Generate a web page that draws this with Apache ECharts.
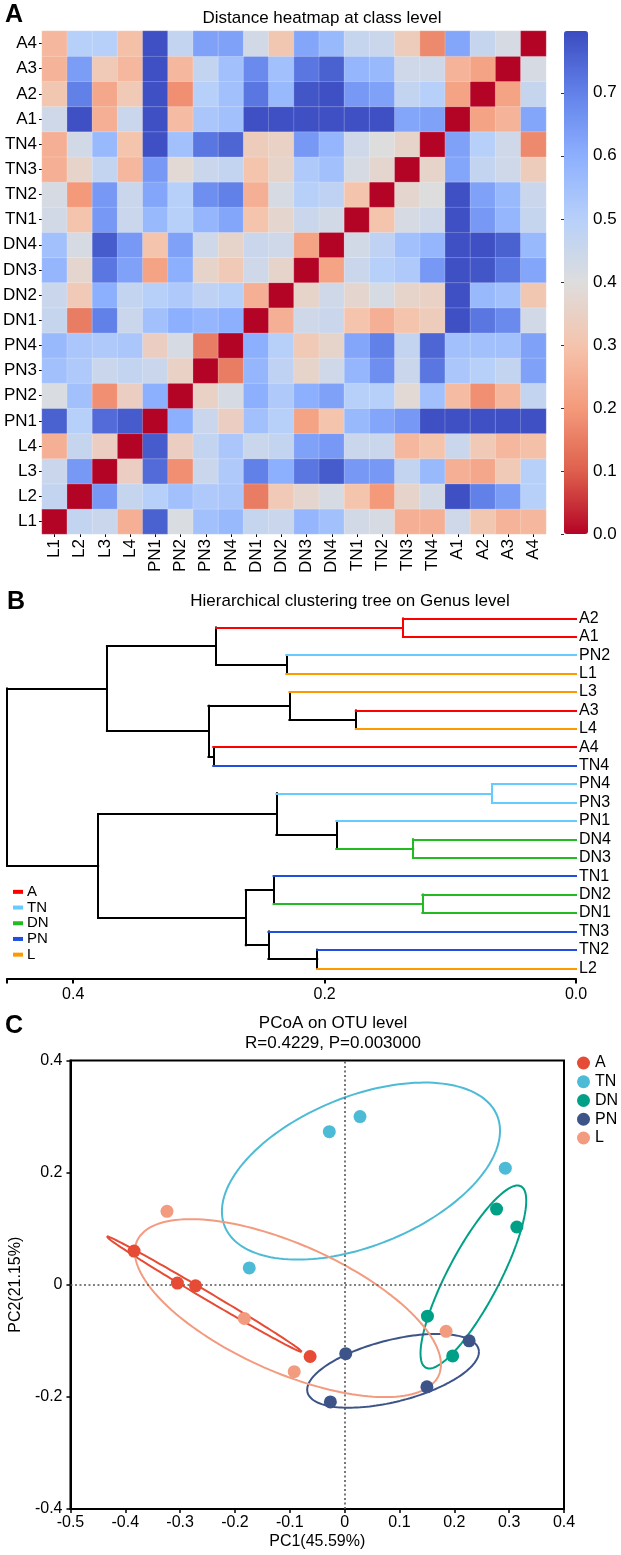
<!DOCTYPE html>
<html><head><meta charset="utf-8">
<script src="https://cdn.jsdelivr.net/npm/echarts@6/dist/echarts.min.js"></script>
<style>html,body{margin:0;padding:0;background:#fff}#c{width:621px;height:1555px}</style>
</head><body><div id="c"></div>
<script>
const FONT = '"Liberation Sans", Arial, Helvetica, sans-serif';

// ---------- Panel A: distance heatmap ----------
const samples = ['L1','L2','L3','L4','PN1','PN2','PN3','PN4','DN1','DN2','DN3','DN4','TN1','TN2','TN3','TN4','A1','A2','A3','A4'];
const rowL1  = [0,0.47,0.45,0.25,0.76,0.41,0.55,0.57,0.46,0.45,0.58,0.55,0.43,0.42,0.25,0.25,0.44,0.31,0.26,0.27];
const rowL2  = [0.47,0,0.65,0.46,0.5,0.55,0.52,0.53,0.15,0.32,0.37,0.42,0.3,0.2,0.36,0.43,0.79,0.7,0.64,0.5];
const rowL3  = [0.45,0.65,0,0.34,0.74,0.18,0.45,0.52,0.7,0.6,0.72,0.77,0.65,0.65,0.47,0.57,0.25,0.23,0.32,0.5];
const rowL4  = [0.25,0.46,0.34,0,0.77,0.34,0.47,0.53,0.45,0.47,0.63,0.65,0.45,0.45,0.27,0.3,0.45,0.32,0.27,0.29];
const rowPN1 = [0.76,0.5,0.74,0.77,0,0.6,0.45,0.34,0.55,0.5,0.22,0.3,0.57,0.62,0.65,0.79,0.79,0.79,0.79,0.79];
const rowPN2 = [0.41,0.55,0.18,0.34,0.6,0,0.35,0.42,0.6,0.52,0.6,0.63,0.5,0.5,0.38,0.55,0.28,0.18,0.27,0.47];
const rowPN3 = [0.55,0.52,0.45,0.47,0.45,0.35,0,0.15,0.58,0.48,0.36,0.44,0.58,0.67,0.45,0.72,0.53,0.5,0.47,0.63];
const rowPN4 = [0.57,0.53,0.52,0.53,0.34,0.42,0.15,0,0.6,0.5,0.32,0.36,0.62,0.7,0.47,0.75,0.55,0.55,0.55,0.63];
const rowDN1 = [0.46,0.15,0.7,0.45,0.55,0.6,0.58,0.6,0,0.25,0.44,0.45,0.3,0.25,0.3,0.33,0.79,0.72,0.68,0.43];
const rowDN2 = [0.45,0.32,0.6,0.47,0.5,0.52,0.48,0.5,0.25,0,0.36,0.44,0.37,0.42,0.36,0.35,0.79,0.57,0.55,0.31];
const rowDN3 = [0.58,0.37,0.72,0.63,0.22,0.6,0.36,0.32,0.44,0.36,0,0.22,0.45,0.5,0.52,0.65,0.79,0.78,0.72,0.62];
const rowDN4 = [0.55,0.42,0.77,0.65,0.3,0.63,0.44,0.36,0.45,0.44,0.22,0,0.43,0.48,0.55,0.58,0.79,0.79,0.76,0.57];
const rowTN1 = [0.43,0.3,0.65,0.45,0.57,0.5,0.58,0.62,0.3,0.37,0.45,0.43,0,0.3,0.42,0.44,0.79,0.65,0.58,0.46];
const rowTN2 = [0.42,0.2,0.65,0.45,0.62,0.5,0.67,0.7,0.25,0.42,0.5,0.48,0.3,0,0.37,0.4,0.79,0.63,0.57,0.45];
const rowTN3 = [0.25,0.36,0.47,0.27,0.65,0.38,0.45,0.47,0.3,0.36,0.52,0.55,0.42,0.37,0,0.36,0.62,0.47,0.44,0.33];
const rowTN4 = [0.25,0.43,0.57,0.3,0.79,0.55,0.72,0.75,0.33,0.35,0.65,0.58,0.44,0.4,0.36,0,0.63,0.5,0.44,0.17];
const rowA1  = [0.44,0.79,0.25,0.45,0.79,0.28,0.53,0.55,0.79,0.79,0.79,0.79,0.79,0.79,0.62,0.63,0,0.22,0.26,0.62];
const rowA2  = [0.31,0.7,0.23,0.32,0.79,0.18,0.5,0.55,0.72,0.57,0.78,0.79,0.65,0.63,0.47,0.5,0.22,0,0.22,0.46];
const rowA3  = [0.26,0.64,0.32,0.27,0.79,0.27,0.47,0.55,0.68,0.55,0.72,0.76,0.58,0.57,0.44,0.44,0.26,0.22,0,0.42];
const rowA4  = [0.27,0.5,0.5,0.29,0.79,0.47,0.63,0.63,0.43,0.31,0.62,0.57,0.46,0.45,0.33,0.17,0.62,0.46,0.42,0];
const distRows = [rowL1,rowL2,rowL3,rowL4,rowPN1,rowPN2,rowPN3,rowPN4,rowDN1,rowDN2,rowDN3,rowDN4,rowTN1,rowTN2,rowTN3,rowTN4,rowA1,rowA2,rowA3,rowA4];
const heatMin = 0, heatMax = 0.798;
const heatTicks = [0,0.1,0.2,0.3,0.4,0.5,0.6,0.7];
const heatColors = ['#b40426','#de604d','#f49a7b','#f5c4ad','#dddddd','#b8d0f9','#8db0fe','#6282ea','#3b4cc0'];

// ---------- Panel B: clustering tree ----------
const treeLeaves = ['L2','TN2','TN3','DN1','DN2','TN1','DN3','DN4','PN1','PN3','PN4','TN4','A4','L4','A3','L3','L1','PN2','A1','A2']; // bottom -> top
const treeMerges = [
  ['A2','A1',0.1377],   // m0
  ['PN2','L1',0.2305],  // m1
  ['m0','m1',0.2864],   // m2
  ['A3','L4',0.1752],   // m3
  ['L3','m3',0.2280],   // m4
  ['A4','TN4',0.2886],  // m5
  ['m4','m5',0.2924],   // m6
  ['m2','m6',0.3732],   // m7
  ['PN4','PN3',0.0669], // m8
  ['DN4','DN3',0.1295], // m9
  ['PN1','m9',0.1907],  // m10
  ['m8','m10',0.2384],  // m11
  ['DN2','DN1',0.1222], // m12
  ['TN1','m12',0.2406], // m13
  ['TN2','L2',0.2059],  // m14
  ['TN3','m14',0.2447], // m15
  ['m13','m15',0.2627], // m16
  ['m11','m16',0.3802], // m17
  ['m7','m17',0.4527]   // m18 (root)
];
const treeTicks = [0, 0.2, 0.4];
const treeBranchColor = {A:'#FF0000', TN:'#1F4FE0', DN:'#22BB22', PN:'#66CCFF', L:'#FF9900'};
const treeLegendNames = ['A','TN','DN','PN','L'];
const treeLegendColors = ['#FF0000','#66CCFF','#22BB22','#1F4FE0','#FF9900'];

// ---------- Panel C: PCoA ----------
const pcoaGroups = ['A','TN','DN','PN','L'];
const pcoaColors = ['#E64B35','#4DBBD5','#00A087','#3C5488','#F39B7F'];
const pcoaA  = [[-0.384,0.060],[-0.305,0.003],[-0.272,-0.002],[-0.063,-0.128]];
const pcoaTN = [[-0.028,0.273],[0.028,0.300],[0.293,0.208],[-0.174,0.030]];
const pcoaDN = [[0.277,0.135],[0.314,0.103],[0.151,-0.056],[0.197,-0.127]];
const pcoaPN = [[0.002,-0.123],[-0.026,-0.209],[0.150,-0.182],[0.227,-0.100]];
const pcoaL  = [[-0.324,0.131],[-0.183,-0.060],[-0.092,-0.155],[0.185,-0.083]];
const pcoaPoints = [pcoaA, pcoaTN, pcoaDN, pcoaPN, pcoaL];
const pcoaXTicks = [-0.5,-0.4,-0.3,-0.2,-0.1,0,0.1,0.2,0.3,0.4];
const pcoaYTicks = [-0.4,-0.2,0,0.2,0.4];
const ellipseScale = 1.3;

// ================= build =================
const heatData = [];
distRows.forEach((row, yi) => row.forEach((v, xi) => heatData.push([xi, yi, v])));

// tree segments
const nodes = {};
treeLeaves.forEach((n, i) => { nodes[n] = {y: i, h: 0, group: n.replace(/\d+$/, '')}; });
const segs = [];
const colOf = nd => nd.group ? treeBranchColor[nd.group] : '#000000';
treeMerges.forEach((m, i) => {
  const a = nodes[m[0]], b = nodes[m[1]], h = m[2];
  const same = (a.group && a.group === b.group) ? a.group : null;
  segs.push({c: colOf(a), coords: [[a.h, a.y], [h, a.y]]});
  segs.push({c: colOf(b), coords: [[b.h, b.y], [h, b.y]]});
  segs.push({c: same ? treeBranchColor[same] : '#000000', coords: [[h, a.y], [h, b.y]]});
  nodes['m' + i] = {y: (a.y + b.y) / 2, h: h, group: same};
});
const rootH = treeMerges[treeMerges.length - 1][2];
const treeColorsUsed = ['#000000'].concat(treeLegendColors);
const treeSeries = treeColorsUsed.map(c => {
  const li = treeLegendColors.indexOf(c);
  return {
    type: 'lines', name: li >= 0 ? treeLegendNames[li] + ' ' : 'tree',
    coordinateSystem: 'cartesian2d', xAxisIndex: 1, yAxisIndex: 1,
    polyline: false, silent: true, z: c === '#000000' ? 3 : 4,
    color: c, itemStyle: {color: c},
    lineStyle: {color: c, width: 2, opacity: 1, cap: 'square'},
    data: segs.filter(s => s.c === c).map(s => ({coords: s.coords}))
  };
});

// ellipses from group covariance
function ellipse(pts) {
  const n = pts.length;
  const mx = pts.reduce((s, p) => s + p[0], 0) / n;
  const my = pts.reduce((s, p) => s + p[1], 0) / n;
  let sxx = 0, syy = 0, sxy = 0;
  pts.forEach(p => { sxx += (p[0]-mx)**2; syy += (p[1]-my)**2; sxy += (p[0]-mx)*(p[1]-my); });
  sxx /= (n-1); syy /= (n-1); sxy /= (n-1);
  const l11 = Math.sqrt(sxx), l21 = sxy / l11, l22 = Math.sqrt(Math.max(syy - l21*l21, 1e-12));
  const out = [];
  for (let i = 0; i <= 160; i++) {
    const t = i / 160 * 2 * Math.PI;
    const c = Math.cos(t), s = Math.sin(t);
    out.push([mx + ellipseScale * l11 * c, my + ellipseScale * (l21 * c + l22 * s)]);
  }
  return out;
}
const fmt0 = v => Math.abs(v) < 1e-9 ? '0' : v.toFixed(1);

const series = [
  {
    type: 'heatmap', xAxisIndex: 0, yAxisIndex: 0, data: heatData,
    itemStyle: {borderColor: 'rgba(255,255,255,0.35)', borderWidth: 0.6},
    emphasis: {disabled: true}, silent: true
  }
].concat(treeSeries).concat([
  {
    type: 'scatter', name: '_ref', xAxisIndex: 2, yAxisIndex: 2, data: [], z: 1, silent: true,
    markLine: {silent: true, symbol: ['none','none'], label: {show: false}, animation: false,
      lineStyle: {type: [2, 2.5], color: '#555', width: 1.6},
      data: [{xAxis: 0}, {yAxis: 0}]}
  }
]);
pcoaGroups.forEach((g, i) => {
  series.push({type: 'scatter', name: g, xAxisIndex: 2, yAxisIndex: 2, data: pcoaPoints[i],
    symbolSize: 13, itemStyle: {color: pcoaColors[i], opacity: 1}, z: 5, silent: true});
});
pcoaGroups.forEach((g, i) => {
  series.push({type: 'line', name: g + '_ellipse', xAxisIndex: 2, yAxisIndex: 2, data: ellipse(pcoaPoints[i]),
    showSymbol: false, smooth: false, lineStyle: {color: pcoaColors[i], width: 2}, itemStyle: {color: pcoaColors[i]},
    z: 3, silent: true});
});

const txt = {color: '#000', fontFamily: FONT};
const option = {
  animation: false,
  textStyle: {fontFamily: FONT, color: '#000'},
  title: [
    {text: 'A', left: 5, top: 3, padding: 0, textStyle: {fontSize: 25, fontWeight: 'bold', ...txt}},
    {text: 'Distance heatmap at class level', left: 322, top: 10, padding: 0, textAlign: 'center', textStyle: {fontSize: 17, fontWeight: 'normal', ...txt}},
    {text: 'B', left: 7, top: 590, padding: 0, textStyle: {fontSize: 25, fontWeight: 'bold', ...txt}},
    {text: 'Hierarchical clustering tree on Genus level', left: 350, top: 593, padding: 0, textAlign: 'center', textStyle: {fontSize: 17, fontWeight: 'normal', ...txt}},
    {text: 'C', left: 5, top: 1014, padding: 0, textStyle: {fontSize: 25, fontWeight: 'bold', ...txt}},
    {text: 'PCoA on OTU level\nR=0.4229, P=0.003000', left: 333, top: 1013, padding: 0, textAlign: 'center', textStyle: {fontSize: 17, lineHeight: 20, fontWeight: 'normal', ...txt}}
  ],
  grid: [
    {left: 40, top: 31, width: 506, height: 503},
    {left: 7, top: 618.3, width: 569, height: 360.1},
    {left: 61, top: 1060.5, width: 503, height: 448.5, show: true, borderColor: '#000', borderWidth: 2, backgroundColor: 'transparent'},
    {left: 564, top: 31, width: 24, height: 503}
  ],
  visualMap: {
    type: 'continuous', seriesIndex: 0, min: heatMin, max: heatMax, calculable: false,
    inRange: {color: heatColors}, left: 564, top: 31, itemWidth: 24, itemHeight: 503, padding: 0,
    orient: 'vertical', hoverLink: false
  },
  legend: [
    {orient: 'vertical', left: 13, top: 884, padding: 0, itemWidth: 8, itemHeight: 2, itemGap: 0, icon: 'rect',
      selectedMode: false, data: treeLegendNames.map(n => n + ' '), formatter: n => n.trim(),
      textStyle: {fontSize: 15, lineHeight: 15.7, ...txt}},
    {orient: 'vertical', left: 577, top: 1053.6, padding: 0, itemWidth: 13, itemHeight: 13, itemGap: 0, icon: 'circle',
      selectedMode: false, data: pcoaGroups, textStyle: {fontSize: 16, lineHeight: 18.75, ...txt}}
  ],
  xAxis: [
    {type: 'category', gridIndex: 0, data: samples, axisLine: {show: false},
      axisTick: {show: true, alignWithLabel: true, length: 3, lineStyle: {color: '#000'}},
      axisLabel: {rotate: 90, fontSize: 17, margin: 5, interval: 0, ...txt}, splitLine: {show: false}},
    {type: 'value', gridIndex: 1, min: 0, max: rootH, inverse: true, position: 'bottom',
      axisLine: {show: true, onZero: false, lineStyle: {color: '#000', width: 2}},
      axisTick: {show: true, length: 5, customValues: treeTicks.concat([rootH]), lineStyle: {color: '#000', width: 2}},
      axisLabel: {customValues: treeTicks, formatter: v => v.toFixed(1), fontSize: 16, margin: 8, ...txt},
      splitLine: {show: false}},
    {type: 'value', gridIndex: 2, min: -0.5, max: 0.4, interval: 0.1,
      axisLine: {show: true, onZero: false, lineStyle: {color: '#000', width: 2}},
      axisTick: {show: true, length: 4, customValues: pcoaXTicks, lineStyle: {color: '#000', width: 1.5}},
      axisLabel: {customValues: pcoaXTicks, formatter: fmt0, fontSize: 16, margin: 6, ...txt},
      splitLine: {show: false},
      name: 'PC1(45.59%)', nameLocation: 'middle', nameGap: 25, nameTextStyle: {fontSize: 16, ...txt}},
    {type: 'value', gridIndex: 3, show: false, min: 0, max: 1}
  ],
  yAxis: [
    {type: 'category', gridIndex: 0, data: samples, axisLine: {show: false},
      axisTick: {show: true, alignWithLabel: true, length: 3, lineStyle: {color: '#000'}},
      axisLabel: {fontSize: 17, margin: 5, interval: 0, ...txt}, splitLine: {show: false}},
    {type: 'value', gridIndex: 1, min: -0.55, max: treeLeaves.length - 1, position: 'right',
      axisLine: {show: false, onZero: false}, axisTick: {show: false}, splitLine: {show: false},
      axisLabel: {customValues: treeLeaves.map((_, i) => i), formatter: v => treeLeaves[Math.round(v)], fontSize: 16, margin: 3, ...txt}},
    {type: 'value', gridIndex: 2, min: -0.4, max: 0.4, interval: 0.2,
      axisLine: {show: true, onZero: false, lineStyle: {color: '#000', width: 2}},
      axisTick: {show: true, length: 4, customValues: pcoaYTicks, lineStyle: {color: '#000', width: 1.5}},
      axisLabel: {customValues: pcoaYTicks, formatter: fmt0, fontSize: 16, margin: 8, ...txt},
      splitLine: {show: false},
      name: 'PC2(21.15%)', nameLocation: 'middle', nameGap: 40, nameRotate: 90, nameTextStyle: {fontSize: 16, ...txt}},
    {type: 'value', gridIndex: 3, min: heatMin, max: heatMax, position: 'right', z: 10,
      axisLine: {show: false},
      axisTick: {show: true, inside: true, length: 3, customValues: heatTicks, lineStyle: {color: '#333'}},
      axisLabel: {customValues: heatTicks, formatter: v => v.toFixed(1), fontSize: 17, margin: 5, ...txt},
      splitLine: {show: false}}
  ],
  series: series
};
const chart = echarts.init(document.getElementById('c'), null, {renderer: 'canvas'});
chart.setOption(option);
</script>
</body></html>
